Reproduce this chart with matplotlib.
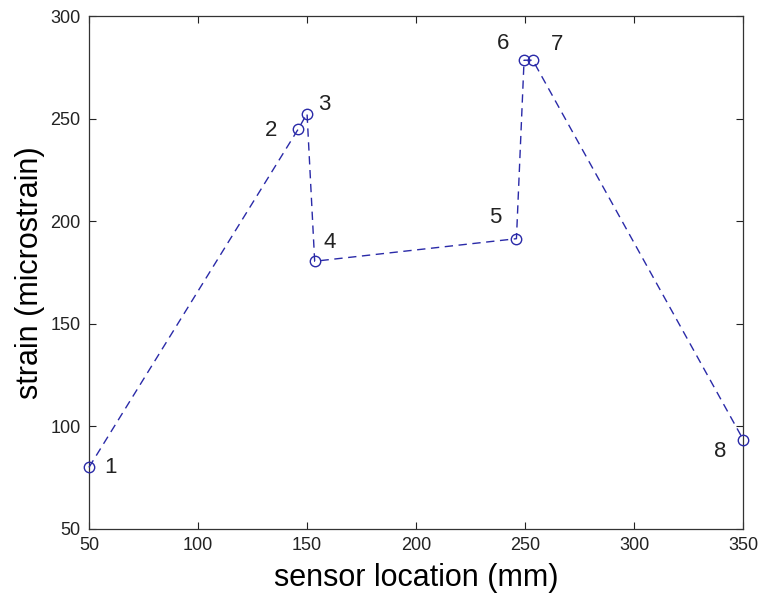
"""Strain along sensor locations — recreated MATLAB-style line plot."""
import matplotlib
matplotlib.use("Agg")
import matplotlib.pyplot as plt

sensor_ids = ["1", "2", "3", "4", "5", "6", "7", "8"]
location_mm = [50, 146, 150, 153.5, 246, 249.5, 253.5, 350]
strain_micro = [80, 245, 252.5, 180.5, 191.5, 278.5, 278.5, 93.5]

# label offsets in pixels (dx, dy) relative to each marker
label_offsets = [(22, 0), (-27, -2), (17, 9), (15, 19), (-21, 21), (-21, 17), (24, 16), (-23, -12)]

LINE = "#2a2aa8"
TEXT = "#222222"

plt.rcParams["font.family"] = ["Liberation Sans", "DejaVu Sans"]

fig = plt.figure(figsize=(7.6, 5.97), dpi=100)
ax = fig.add_axes([0.117, 0.114, 0.861, 0.859])

ax.plot(location_mm, strain_micro, linestyle=(0, (6, 4)), linewidth=1.0, color=LINE,
        marker="o", markersize=7.5, markerfacecolor="none", markeredgecolor=LINE,
        markeredgewidth=1.0, clip_on=False, zorder=3)

for sid, x, y, (dx, dy) in zip(sensor_ids, location_mm, strain_micro, label_offsets):
    ax.annotate(sid, (x, y), xytext=(dx, dy), textcoords="offset pixels",
                ha="center", va="center", fontsize=16, color=TEXT)

ax.set_xlim(50, 350)
ax.set_ylim(50, 300)
ax.set_xticks(range(50, 351, 50))
ax.set_yticks(range(50, 301, 50))
ax.tick_params(direction="in", length=5, width=0.8, top=True, right=True,
               labelsize=13, colors=TEXT, pad=6)
for sp in ax.spines.values():
    sp.set_linewidth(0.9)
    sp.set_color("#333333")

ax.set_xlabel("sensor location (mm)", fontsize=22, color="black", labelpad=6)
ax.set_ylabel("strain (microstrain)", fontsize=22, color="black", labelpad=4)

fig.savefig("out.png", dpi=100, facecolor="white")
